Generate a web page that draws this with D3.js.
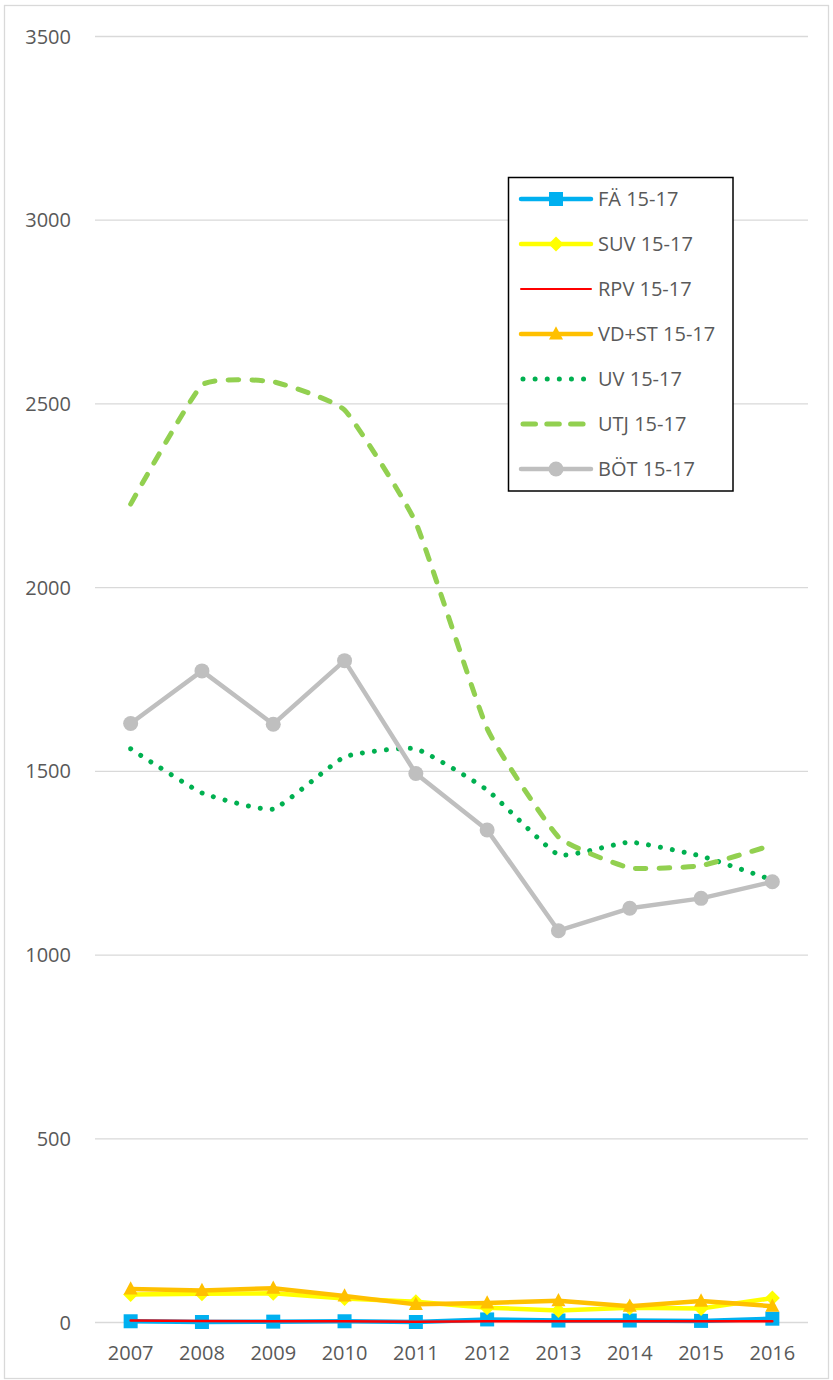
<!DOCTYPE html>
<html>
<head>
<meta charset="utf-8">
<script src="https://cdn.jsdelivr.net/npm/d3@7/dist/d3.min.js"></script>
<style>
  html, body { margin: 0; padding: 0; background: #ffffff; }
  svg { display: block; }
  text { font-family: "Open Sans", "DejaVu Sans", sans-serif; }
</style>
</head>
<body>
<svg id="chart" width="833" height="1380"></svg>
<script>
const years = ["2007","2008","2009","2010","2011","2012","2013","2014","2015","2016"];
const yTicks = [0, 500, 1000, 1500, 2000, 2500, 3000, 3500];

const seriesNames = ["FÄ 15-17","SUV 15-17","RPV 15-17","VD+ST 15-17","UV 15-17","UTJ 15-17","BÖT 15-17"];
const faValues   = [2, 0, 1, 2, 0, 7, 4, 4, 3, 9];
const suvValues  = [75, 77, 78, 64, 55, 39, 31, 39, 37, 65];
const rpvValues  = [4, 3, 2, 2, 1, 2, 2, 2, 2, 2];
const vdstValues = [90, 86, 92, 71, 48, 52, 58, 43, 57, 43];
const uvValues   = [1560, 1440, 1396, 1538, 1560, 1448, 1272, 1306, 1268, 1203];
const utjValues  = [2226, 2550, 2559, 2482, 2175, 1615, 1320, 1236, 1242, 1298];
const botValues  = [1629, 1772, 1627, 1800, 1493, 1339, 1065, 1126, 1153, 1198];

const plot = { left: 95, right: 808, top: 36, bottom: 1322 };

const svg = d3.select("#chart");

svg.append("rect")
  .attr("x", 4.5).attr("y", 5.5)
  .attr("width", 824).attr("height", 1373)
  .attr("fill", "#ffffff")
  .attr("stroke", "#d9d9d9").attr("stroke-width", 1.3);

const x = d3.scaleBand().domain(years).range([plot.left, plot.right]);
const cx = d => x(d) + x.bandwidth() / 2;
const y = d3.scaleLinear().domain([0, 3500]).range([plot.bottom, plot.top]);

const yAxis = d3.axisLeft(y).tickValues(yTicks).tickFormat(d3.format("d"))
  .tickSize(-(plot.right - plot.left)).tickPadding(24);
const gy = svg.append("g").attr("transform", `translate(${plot.left},0)`).call(yAxis);
gy.select(".domain").remove();
gy.selectAll(".tick line").attr("stroke", "#d9d9d9").attr("stroke-width", 1.3);
gy.selectAll(".tick text")
  .attr("fill", "#595959").attr("font-size", 20)
  .attr("font-family", "'Open Sans', sans-serif")
  .attr("x", -24).attr("dy", "0.35em");

const xAxis = d3.axisBottom(x).tickSize(0).tickPadding(24);
const gx = svg.append("g").attr("transform", `translate(0,${plot.bottom})`).call(xAxis);
gx.select(".domain").remove();
gx.selectAll(".tick text")
  .attr("fill", "#595959").attr("font-size", 20)
  .attr("font-family", "'Open Sans', sans-serif");

function marker(g, type, color, px, py, size) {
  if (type === "square") {
    g.append("rect").attr("x", px - size/2).attr("y", py - size/2)
      .attr("width", size).attr("height", size).attr("fill", color);
  } else if (type === "diamond") {
    const s = size/2;
    g.append("path").attr("d", `M${px},${py-s}L${px+s},${py}L${px},${py+s}L${px-s},${py}Z`).attr("fill", color);
  } else if (type === "triangle") {
    const s = size/2;
    g.append("path").attr("d", `M${px},${py-s*1.1}L${px+s},${py+s*0.8}L${px-s},${py+s*0.8}Z`).attr("fill", color);
  } else if (type === "circle") {
    g.append("circle").attr("cx", px).attr("cy", py).attr("r", size/2).attr("fill", color);
  }
}

const series = [
  { name: seriesNames[0], values: faValues,   color: "#00B0F0", width: 4.5, dash: null, marker: "square",   msize: 14, smooth: false },
  { name: seriesNames[1], values: suvValues,  color: "#FFFF00", width: 4.5, dash: null, marker: "diamond",  msize: 15, smooth: false },
  { name: seriesNames[2], values: rpvValues,  color: "#FF0000", width: 2.5, dash: null, marker: null,       msize: 0,  smooth: false },
  { name: seriesNames[3], values: vdstValues, color: "#FFC000", width: 4.5, dash: null, marker: "triangle", msize: 14, smooth: false },
  { name: seriesNames[4], values: uvValues,   color: "#00B050", width: 5,   dash: "0.01 12", marker: null, msize: 0, smooth: true },
  { name: seriesNames[5], values: utjValues,  color: "#92D050", width: 5,   dash: "10.5 13.2", marker: null, msize: 0, smooth: true },
  { name: seriesNames[6], values: botValues,  color: "#BFBFBF", width: 4.5, dash: null, marker: "circle",   msize: 15, smooth: false }
];

const plotG = svg.append("g");
series.forEach(s => {
  const line = d3.line()
    .x((d, i) => cx(years[i]))
    .y(d => y(d))
    .curve(s.smooth ? d3.curveCardinal.tension(0.6) : d3.curveLinear);
  const p = plotG.append("path")
    .attr("d", line(s.values))
    .attr("fill", "none")
    .attr("stroke", s.color)
    .attr("stroke-width", s.width)
    .attr("stroke-linejoin", "round")
    .attr("stroke-linecap", "round");
  if (s.dash) p.attr("stroke-dasharray", s.dash);
  if (s.marker) {
    const mg = plotG.append("g");
    s.values.forEach((v, i) => marker(mg, s.marker, s.color, cx(years[i]), y(v), s.msize));
  }
});

const lg = svg.append("g");
lg.append("rect")
  .attr("x", 508.5).attr("y", 177.5).attr("width", 224.5).attr("height", 313.5)
  .attr("fill", "#ffffff").attr("stroke", "#000000").attr("stroke-width", 1.5);
const legY = d3.scalePoint().domain(seriesNames).range([199, 469]);
series.forEach(s => {
  const ly = legY(s.name);
  const l = lg.append("line")
    .attr("x1", s.dash ? 523 : 521).attr("x2", s.dash ? 589 : 591)
    .attr("y1", ly).attr("y2", ly)
    .attr("stroke", s.color).attr("stroke-width", s.name === "RPV 15-17" ? 2 : s.width)
    .attr("stroke-linecap", "round");
  if (s.dash) l.attr("stroke-dasharray", s.name === "UV 15-17" ? "0.01 12.1" : "12.5 11.3");
  if (s.marker) marker(lg, s.marker, s.color, 556, ly, s.msize);
  lg.append("text")
    .attr("x", 598).attr("y", ly).attr("dy", "0.35em")
    .attr("fill", "#595959").attr("font-size", 20)
    .text(s.name);
});
</script>
</body>
</html>
